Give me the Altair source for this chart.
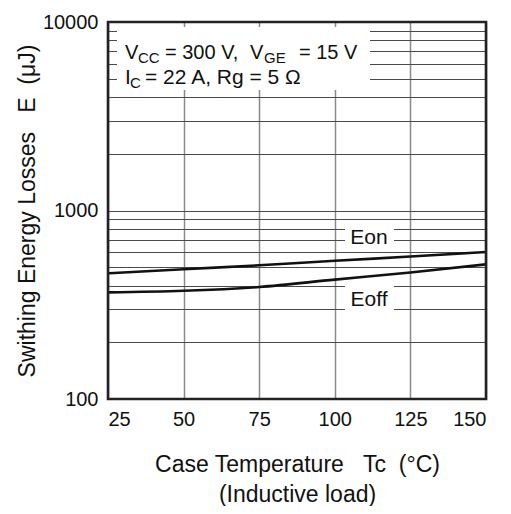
import altair as alt
import pandas as pd

# ---- data ----
temps = [25, 50, 75, 100, 125, 150]
eon = [464, 488, 512, 541, 570, 602]
eoff = [368, 375, 393, 430, 469, 518]
x_ticks = [25, 50, 75, 100, 125, 150]
y_grid = [100, 200, 300, 400, 500, 600, 700, 800, 900,
          1000, 2000, 3000, 4000, 5000, 6000, 7000, 8000, 9000, 10000]
y_labels = [100, 1000, 10000]

W, H = 378, 377
FONT = "Liberation Sans"
INK = "#111111"
NB = "\u00a0"

df = pd.DataFrame({
    "T": temps + temps,
    "E": eon + eoff,
    "s": ["Eon"] * len(temps) + ["Eoff"] * len(temps),
})
one = pd.DataFrame({"a": [0]})

xenc = alt.X(
    "T:Q",
    scale=alt.Scale(domain=[25, 150], nice=False, zero=False),
    axis=alt.Axis(
        values=x_ticks,
        title=["Case Temperature" + NB * 3 + "Tc" + NB * 2 + "(°C)", "(Inductive load)"],
        grid=True, gridColor="#8a8a8a", gridWidth=1.5,
        domain=False, ticks=False, labelPadding=10,
        titlePadding=24, titleLineHeight=30,
        labelFont=FONT, labelFontSize=20, labelColor=INK,
        titleFont=FONT, titleFontSize=23, titleFontWeight="normal", titleColor=INK,
    ),
)
yenc = alt.Y(
    "E:Q",
    scale=alt.Scale(type="log", domain=[100, 10000], nice=False),
    axis=alt.Axis(
        values=y_grid,
        labelExpr="indexof([100,1000,10000], datum.value) >= 0 ? format(datum.value, 'd') : ''",
        title="Swithing Energy Losses" + NB * 3 + "E" + NB * 2 + "(μJ)",
        grid=True, gridColor="#4a4a4a", gridWidth=1.2,
        domain=False, ticks=False, labelPadding=10, titlePadding=3,
        labelFont=FONT, labelFontSize=20, labelColor=INK,
        titleFont=FONT, titleFontSize=23, titleFontWeight="normal", titleColor=INK,
    ),
)

lines = alt.Chart(df).mark_line(color=INK, strokeWidth=2.6, interpolate="monotone").encode(
    x=xenc, y=yenc, detail="s:N"
)


def box(x1, x2, y1, y2):
    return alt.Chart(one).mark_rect(color="white").encode(
        x=alt.value(x1), x2=alt.value(x2), y=alt.value(y1), y2=alt.value(y2)
    )


def txt(s, x, y, size=20, align="left"):
    return alt.Chart(one).mark_text(
        text=s, align=align, baseline="alphabetic", font=FONT, fontSize=size, color=INK
    ).encode(x=alt.value(x), y=alt.value(y))


boxes = box(9, 262, 5, 68) + box(237, 286, 202, 224) + box(237, 286, 260, 290)

labels = (
    txt("V", 17, 37) + txt("CC", 30, 41, 15) + txt("= 300 V,", 57, 37)
    + txt("V", 142, 37) + txt("GE", 156, 41, 15) + txt("= 15 V", 191, 37)
    + txt("I", 17, 62, 21) + txt("C", 22, 66, 15) + txt("= 22 A, Rg = 5 Ω", 37, 62, 21)
    + txt("Eon", 261, 222, 21, "center")
    + txt("Eoff", 261, 284, 21, "center")
)

frame = alt.Chart(one).mark_rect(filled=False, stroke="#222222", strokeWidth=2.6).encode(
    x=alt.value(0), x2=alt.value(W), y=alt.value(0), y2=alt.value(H)
)

chart = (boxes + lines + labels + frame).properties(
    width=W, height=H, background="white",
    padding={"left": 8, "top": 4, "right": 5, "bottom": 0},
).configure_view(stroke=None)

chart.save("out.html", embed_options={"renderer": "svg", "actions": False})
